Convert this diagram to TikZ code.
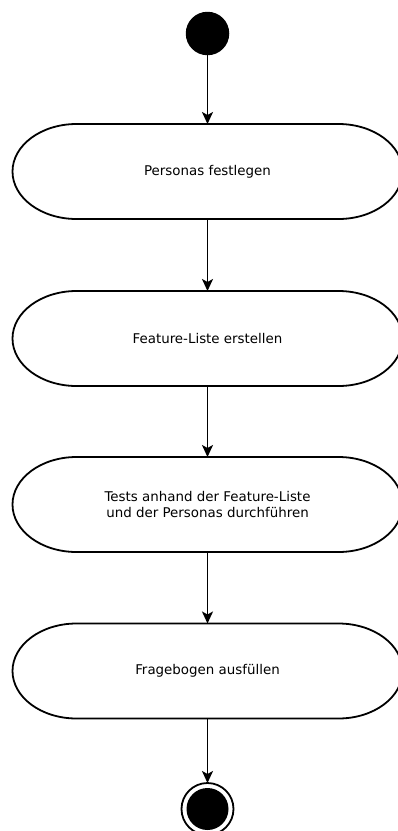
\documentclass[tikz,border=0pt]{standalone}
\usepackage{fontspec}
\setmainfont{DejaVu Sans}
\usetikzlibrary{positioning,arrows.meta}

\tikzset{
  activity/.style={minimum width=390pt,minimum height=95pt,inner sep=0pt,outer sep=0pt,
    align=center,font=\fontsize{13.4}{16}\selectfont},
  flow/.style={line width=1.8pt,-{Stealth[length=12pt,width=11pt,inset=3pt]}}
}

\begin{document}
\begin{tikzpicture}[x=1pt,y=1pt,line width=1.8pt]
\useasboundingbox (0,0) rectangle (398,-831);
% start
\node[circle,fill=black,minimum size=43.5pt,inner sep=0pt,outer sep=0pt](start)at(207.5,-33.5){};
% activities
\node[activity](personas)at(207.5,-171.5){Personas festlegen};
\node[activity](feature)at(207.5,-338.5){Feature-Liste erstellen};
\node[activity](tests)at(207.5,-504.5){Tests anhand der Feature-Liste\\und der Personas durchführen};
\node[activity](fragebogen)at(207.5,-671){Fragebogen ausfüllen};
\foreach \n in {personas,feature,tests,fragebogen}
  \draw([xshift=64pt]\n.north west)--([xshift=-64pt]\n.north east)
    arc[start angle=90,end angle=-90,x radius=64pt,y radius=47.5pt]
    --([xshift=64pt]\n.south west)
    arc[start angle=270,end angle=90,x radius=64pt,y radius=47.5pt]--cycle;
% end
\node[circle,draw,minimum size=52pt,inner sep=0pt,outer sep=0pt](stop)at(207.5,-809){};
\fill(stop.center)circle[radius=21pt];
% flow
\draw[flow](start)--(personas);
\draw[flow](personas)--(feature);
\draw[flow](feature)--(tests);
\draw[flow](tests)--(fragebogen);
\draw[flow](fragebogen)--(stop);
\end{tikzpicture}
\end{document}
